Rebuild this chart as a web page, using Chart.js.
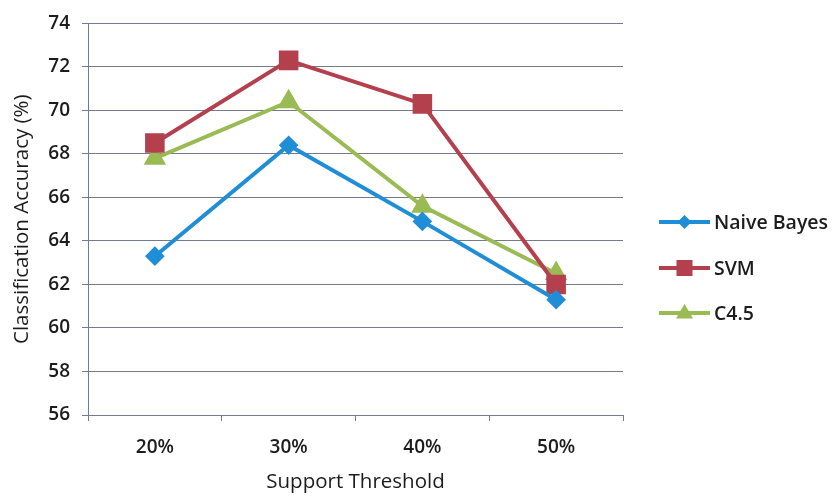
<!DOCTYPE html>
<html>
<head>
<meta charset="utf-8">
<script src="https://cdn.jsdelivr.net/npm/chart.js@4/dist/chart.umd.min.js"></script>
<style>
  html, body { margin: 0; padding: 0; background: #ffffff; }
  #wrap { width: 835px; height: 498px; position: relative; }
</style>
</head>
<body>
<div id="wrap"><canvas id="c"></canvas></div>
<script>
// Support thresholds on the x axis
const thresholds = ['20%', '30%', '40%', '50%'];

// Classification accuracy (%) per classifier
const naiveBayes = [63.3, 68.4, 64.9, 61.3];
const svm        = [68.5, 72.3, 70.3, 62.0];
const c45        = [67.8, 70.4, 65.6, 62.5];

// Series names
const seriesNames = ['Naive Bayes', 'SVM', 'C4.5'];

const FONT = "'Open Sans', 'Liberation Sans', sans-serif";
const TEXT = '#1c1c1c';
const GRID = '#747a90';

// Draws a point marker of the given style
function drawMarker(ctx, style, x, y, color) {
  ctx.save();
  ctx.fillStyle = color;
  ctx.beginPath();
  if (style === 'rectRot') {
    const r = 7;
    ctx.moveTo(x, y - r); ctx.lineTo(x + r, y); ctx.lineTo(x, y + r); ctx.lineTo(x - r, y);
  } else if (style === 'rect') {
    ctx.rect(x - 8, y - 8, 16, 16);
  } else {
    const r = 9;
    ctx.moveTo(x, y - r); ctx.lineTo(x + r * 0.95, y + r * 0.6); ctx.lineTo(x - r * 0.95, y + r * 0.6);
  }
  ctx.closePath();
  ctx.fill();
  ctx.restore();
}

// Legend on the right: a short line with the marker in its middle, then the name
const sideLegend = {
  id: 'sideLegend',
  afterDraw(chart) {
    const ctx = chart.ctx;
    const rows = [222, 268, 313];
    chart.data.datasets.forEach((ds, i) => {
      const y = rows[i];
      ctx.save();
      ctx.strokeStyle = ds.borderColor;
      ctx.lineWidth = 4;
      ctx.beginPath();
      ctx.moveTo(659, y); ctx.lineTo(710, y);
      ctx.stroke();
      drawMarker(ctx, ds.pointStyle, 684.5, y, ds.borderColor);
      ctx.fillStyle = TEXT;
      ctx.font = "600 19.5px " + FONT;
      ctx.textBaseline = 'middle';
      ctx.textAlign = 'left';
      ctx.fillText(ds.label, 714, y + 1);
      ctx.restore();
    });
  }
};

new Chart(document.getElementById('c'), {
  type: 'line',
  data: {
    labels: thresholds,
    datasets: [
      { label: seriesNames[0], data: naiveBayes, borderColor: '#1f8ed6', backgroundColor: '#1f8ed6',
        pointStyle: 'rectRot', pointRadius: 7, borderWidth: 4 },
      { label: seriesNames[1], data: svm, borderColor: '#b4404d', backgroundColor: '#b4404d',
        pointStyle: 'rect', pointRadius: 11, borderWidth: 4 },
      { label: seriesNames[2], data: c45, borderColor: '#9abb54', backgroundColor: '#9abb54',
        pointStyle: 'triangle', pointRadius: 9, borderWidth: 4 }
    ]
  },
  options: {
    responsive: true,
    maintainAspectRatio: false,
    animation: false,
    layout: { padding: { top: 21, right: 212, left: 0, bottom: 0 } },
    plugins: {
      legend: { display: false },
      tooltip: { enabled: false }
    },
    elements: { line: { tension: 0 }, point: { borderWidth: 0 } },
    scales: {
      x: {
        offset: true,
        grid: { drawOnChartArea: false, drawTicks: true, tickLength: 6, color: GRID, offset: true },
        border: { display: true, color: GRID, width: 1 },
        ticks: { color: TEXT, font: { family: FONT, size: 19, weight: '600' }, padding: 15 },
        title: { display: true, text: 'Support Threshold', color: TEXT,
                 font: { family: FONT, size: 20.5 }, padding: { top: 9 } },
        afterFit(scale) { scale.height = 83; }
      },
      y: {
        min: 56, max: 74,
        ticks: { stepSize: 2, color: TEXT, font: { family: FONT, size: 19, weight: '600' }, padding: 12 },
        grid: { color: GRID, lineWidth: 1, tickLength: 6 },
        border: { display: true, color: GRID, width: 1 },
        title: { display: true, text: 'Classification Accuracy (%)', color: TEXT,
                 font: { family: FONT, size: 20.5 }, padding: { top: 10, bottom: 4 } },
        afterFit(scale) { scale.width = 88; }
      }
    }
  },
  plugins: [sideLegend]
});
</script>
</body>
</html>
